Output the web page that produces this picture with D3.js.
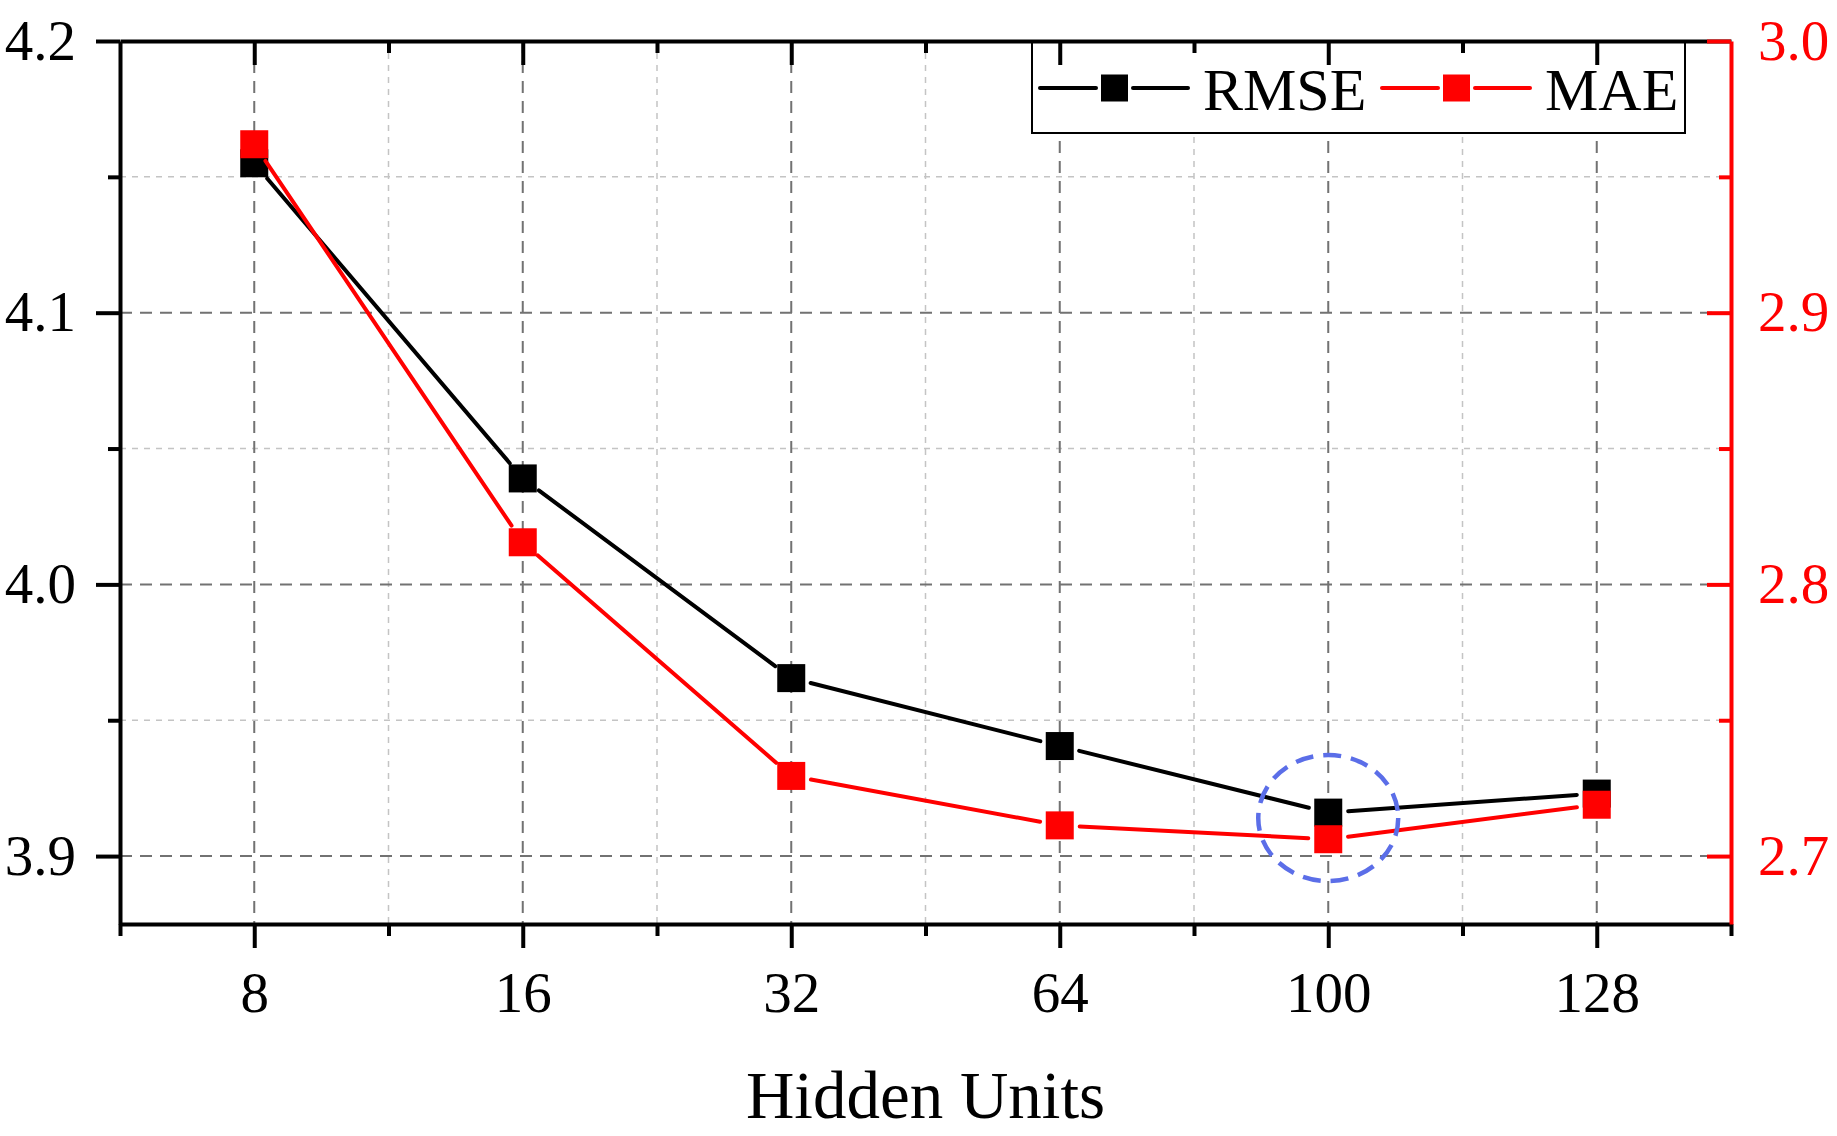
<!DOCTYPE html>
<html>
<head>
<meta charset="utf-8">
<script src="https://d3js.org/d3.v7.min.js"></script>
<style>
  html, body { margin: 0; padding: 0; background: #fff; }
  svg { display: block; font-family: "Liberation Serif", "Times New Roman", serif; }
</style>
</head>
<body>
<svg id="chart" width="1837" height="1136"></svg>
<script>
// data
const units = ['8', '16', '32', '64', '100', '128'];
const rmse = [4.155, 4.039, 3.9655, 3.9405, 3.916, 3.923];
const mae = [2.962, 2.8155, 2.7295, 2.7113, 2.7062, 2.7189];
const leftTicks = [3.9, 4.0, 4.1, 4.2];
const rightTicks = [2.7, 2.8, 2.9, 3.0];
const leftMinor = [3.95, 4.05, 4.15];
const rightMinor = [2.75, 2.85, 2.95];

const chart = d3.select('#chart');
const plotL = 120, plotR = 1731, plotT = 41, plotB = 924;

// category index scale, half a step of padding on both ends
const x = d3.scaleLinear().domain([-0.5, units.length - 0.5]).range([plotL, plotR]);
const yL = d3.scaleLinear().domain([3.875, 4.2]).range([plotB, plotT]);
const yR = d3.scaleLinear().domain([2.675, 3.0]).range([plotB, plotT]);

const majorIdx = units.map((d, i) => i);
const minorIdx = d3.range(-0.5, units.length, 1);

// grid
const grid = chart.append('g');
grid.selectAll('.vmin').data(minorIdx.slice(1, -1)).enter().append('line')
  .attr('x1', d => x(d)).attr('x2', d => x(d))
  .attr('y1', plotT).attr('y2', plotB)
  .attr('stroke', '#c4c4c4').attr('stroke-width', 1.5).attr('stroke-dasharray', '6,6');
grid.selectAll('.hmin').data(leftMinor).enter().append('line')
  .attr('x1', plotL).attr('x2', plotR)
  .attr('y1', d => yL(d)).attr('y2', d => yL(d))
  .attr('stroke', '#c4c4c4').attr('stroke-width', 1.5).attr('stroke-dasharray', '6,6');
grid.selectAll('.vmaj').data(majorIdx).enter().append('line')
  .attr('x1', d => x(d)).attr('x2', d => x(d))
  .attr('y1', plotT).attr('y2', plotB)
  .attr('stroke', '#727272').attr('stroke-width', 2).attr('stroke-dasharray', '12,8');
grid.selectAll('.hmaj').data([3.9, 4.0, 4.1]).enter().append('line')
  .attr('x1', plotL).attr('x2', plotR)
  .attr('y1', d => yL(d)).attr('y2', d => yL(d))
  .attr('stroke', '#727272').attr('stroke-width', 2).attr('stroke-dasharray', '12,8');

// series: line segments stop short of the markers
const line = d3.line();
function drawSeries(values, y, color) {
  const pts = values.map((v, i) => [x(i), y(v)]);
  const g = chart.append('g');
  const gap = 20;
  for (let i = 0; i < pts.length - 1; i++) {
    const [x0, y0] = pts[i], [x1, y1] = pts[i + 1];
    const len = Math.hypot(x1 - x0, y1 - y0);
    const ux = (x1 - x0) / len, uy = (y1 - y0) / len;
    g.append('path')
      .attr('d', line([[x0 + ux * gap, y0 + uy * gap], [x1 - ux * gap, y1 - uy * gap]]))
      .attr('fill', 'none')
      .attr('stroke', color)
      .attr('stroke-width', 4)
      .attr('stroke-linecap', 'round');
  }
  g.selectAll('rect').data(values).enter().append('rect')
    .attr('x', (d, i) => x(i) - 14)
    .attr('y', d => y(d) - 14)
    .attr('width', 28).attr('height', 28)
    .attr('fill', color);
}
drawSeries(rmse, yL, '#000');
drawSeries(mae, yR, '#ff0000');

// highlight around the best point
chart.append('ellipse')
  .attr('cx', x(4))
  .attr('cy', yL(3.914))
  .attr('rx', 70).attr('ry', 63)
  .attr('fill', 'none')
  .attr('stroke', '#5b6ee8')
  .attr('stroke-width', 4.5)
  .attr('stroke-dasharray', '18,10');

// legend
const legend = chart.append('g');
legend.append('rect')
  .attr('x', 1032).attr('y', plotT).attr('width', 653).attr('height', 92)
  .attr('fill', '#fff').attr('stroke', '#000').attr('stroke-width', 2);
const items = [
  { name: 'RMSE', color: '#000', x0: 1040 },
  { name: 'MAE', color: '#ff0000', x0: 1382 }
];
items.forEach(it => {
  const cy = 88;
  legend.append('path').attr('d', line([[it.x0, cy], [it.x0 + 56, cy]]))
    .attr('stroke', it.color).attr('stroke-width', 4).attr('stroke-linecap', 'round');
  legend.append('path').attr('d', line([[it.x0 + 93, cy], [it.x0 + 148, cy]]))
    .attr('stroke', it.color).attr('stroke-width', 4).attr('stroke-linecap', 'round');
  legend.append('rect').attr('x', it.x0 + 61).attr('y', cy - 13.5)
    .attr('width', 27).attr('height', 27).attr('fill', it.color);
  legend.append('text').attr('x', it.x0 + 163).attr('y', 110)
    .attr('font-size', 60).attr('fill', '#000').text(it.name);
});

// axes
function styleAxis(g, color, width) {
  g.selectAll('path.domain').attr('stroke', color).attr('stroke-width', width);
  g.selectAll('.tick line').attr('stroke', color).attr('stroke-width', width);
}

// bottom
const bMinor = chart.append('g').attr('transform', `translate(0,${plotB})`)
  .call(d3.axisBottom(x).tickValues(minorIdx).tickSize(12).tickFormat(''));
bMinor.select('.domain').remove();
styleAxis(bMinor, '#000', 4);
const bMajor = chart.append('g').attr('transform', `translate(0,${plotB})`)
  .call(d3.axisBottom(x).tickValues(majorIdx).tickSize(24).tickSizeOuter(0)
    .tickFormat(i => units[i]));
styleAxis(bMajor, '#000', 4);
bMajor.selectAll('text').attr('y', 88).attr('dy', 0)
  .attr('font-size', 57).attr('font-family', 'Liberation Serif').attr('fill', '#000');

// top (ticks inward)
const tMinor = chart.append('g').attr('transform', `translate(0,${plotT})`)
  .call(d3.axisTop(x).tickValues(minorIdx.slice(1, -1)).tickSize(-12).tickFormat(''));
tMinor.select('.domain').remove();
styleAxis(tMinor, '#000', 4);
const tMajor = chart.append('g').attr('transform', `translate(0,${plotT})`)
  .call(d3.axisTop(x).tickValues(majorIdx).tickSize(-24).tickSizeOuter(0).tickFormat(''));
styleAxis(tMajor, '#000', 4);

// left
const lMinor = chart.append('g').attr('transform', `translate(${plotL},0)`)
  .call(d3.axisLeft(yL).tickValues(leftMinor).tickSize(12).tickFormat(''));
lMinor.select('.domain').remove();
styleAxis(lMinor, '#000', 4);
const lMajor = chart.append('g').attr('transform', `translate(${plotL},0)`)
  .call(d3.axisLeft(yL).tickValues(leftTicks).tickSize(24).tickSizeOuter(0)
    .tickPadding(20).tickFormat(d3.format('.1f')));
styleAxis(lMajor, '#000', 4);
lMajor.selectAll('text').attr('font-size', 57).attr('font-family', 'Liberation Serif')
  .attr('fill', '#000').attr('dy', '0.32em');

// right (red, ticks inward)
const rMinor = chart.append('g').attr('transform', `translate(${plotR},0)`)
  .call(d3.axisRight(yR).tickValues(rightMinor).tickSize(-12).tickFormat(''));
rMinor.select('.domain').remove();
styleAxis(rMinor, '#ff0000', 4);
const rMajor = chart.append('g').attr('transform', `translate(${plotR},0)`)
  .call(d3.axisRight(yR).tickValues(rightTicks).tickSize(-24).tickSizeOuter(0)
    .tickPadding(27).tickFormat(d3.format('.1f')));
styleAxis(rMajor, '#ff0000', 4);
rMajor.selectAll('text').attr('font-size', 57).attr('font-family', 'Liberation Serif')
  .attr('fill', '#ff0000').attr('dy', '0.32em');

// axis title
chart.append('text')
  .attr('x', (plotL + plotR) / 2).attr('y', 1118)
  .attr('text-anchor', 'middle')
  .attr('font-size', 67)
  .attr('fill', '#000')
  .text('Hidden Units');
</script>
</body>
</html>
